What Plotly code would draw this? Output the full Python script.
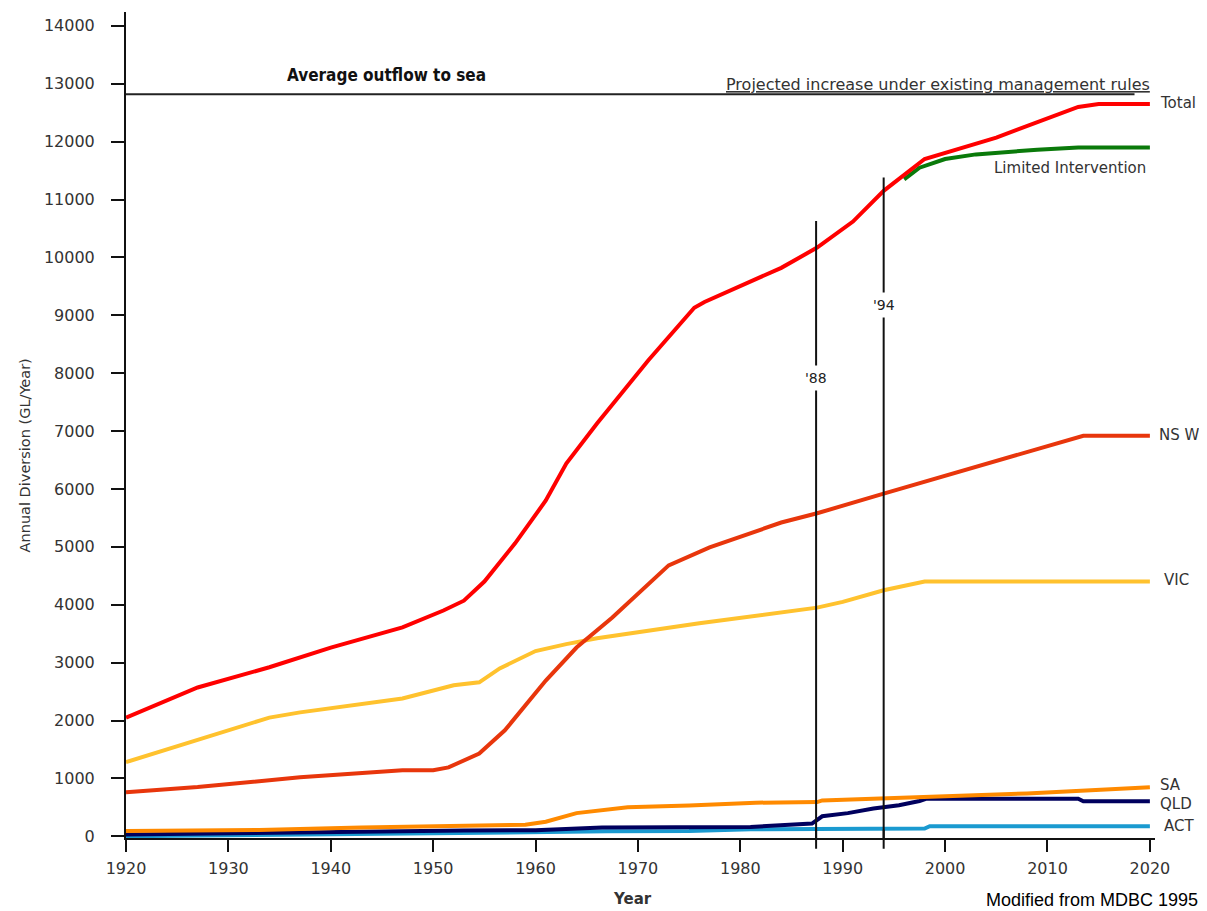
import plotly.graph_objects as go

# ---------------- data ----------------
total_years = [1920, 1927, 1934, 1940, 1947, 1951, 1953, 1955, 1958, 1961, 1963, 1966, 1971, 1975.5, 1976.5, 1980.5, 1984, 1987.5, 1991, 1994, 1998, 2005, 2013, 2015, 2020]
total_vals = [2050, 2570, 2920, 3260, 3610, 3900, 4070, 4400, 5060, 5800, 6440, 7130, 8220, 9130, 9230, 9550, 9820, 10170, 10620, 11150, 11700, 12070, 12600, 12650, 12650]

limited_years = [1996, 1997.5, 2000, 2003, 2009, 2013, 2020]
limited_vals = [11350, 11550, 11700, 11780, 11860, 11900, 11900]

nsw_years = [1920, 1927, 1937, 1947, 1950, 1951.5, 1954.5, 1957, 1961, 1964, 1967.5, 1971.5, 1973, 1977, 1984, 1987.5, 1994, 2013.5, 2020]
nsw_vals = [760, 850, 1020, 1140, 1140, 1190, 1430, 1830, 2690, 3260, 3780, 4420, 4680, 4990, 5420, 5580, 5920, 6920, 6920]

vic_years = [1920, 1927, 1934, 1937, 1947, 1952, 1954.5, 1956.5, 1960, 1963, 1966, 1976, 1984, 1987.5, 1990, 1994, 1998, 2020]
vic_vals = [1280, 1660, 2050, 2140, 2380, 2610, 2660, 2900, 3200, 3320, 3420, 3680, 3870, 3950, 4050, 4250, 4400, 4400]

sa_years = [1920, 1933, 1943, 1954, 1959, 1961, 1964, 1969, 1975, 1981.5, 1987.5, 1988, 1997.5, 2008, 2020]
sa_vals = [90, 110, 150, 180, 200, 250, 400, 500, 530, 580, 590, 620, 670, 740, 845]

qld_years = [1920, 1932, 1939, 1953, 1960, 1966.5, 1981, 1987, 1988, 1990.5, 1993, 1995.5, 1997.5, 1998.2, 2013, 2013.5, 2020]
qld_vals = [30, 60, 80, 100, 105, 150, 160, 220, 345, 400, 480, 535, 610, 650, 650, 606, 606]

act_years = [1920, 1939, 1943, 1955, 1967, 1975, 1981, 1998, 1998.5, 2020]
act_vals = [0, 25, 30, 60, 86, 90, 120, 135, 175, 175]

series_names = ["Limited Intervention", "Total", "NSW", "VIC", "SA", "QLD", "ACT"]
series_colors = ["#0a7a0a", "#ff0000", "#e8360c", "#ffc22e", "#ff8a00", "#00005e", "#1a9ad0"]

outflow_value = 12820
outflow_end_year = 2018.5
event_years = [1987.4, 1994.0]
event_tops = [10630, 11380]
event_labels = ["'88", "'94"]
event_label_vals = [7920, 9180]

x_tick_vals = [1920, 1930, 1940, 1950, 1960, 1970, 1980, 1990, 2000, 2010, 2020]
x_tick_text = [str(v) for v in x_tick_vals]
y_tick_vals = list(range(0, 14001, 1000))

# ---------------- figure ----------------
FONT = "DejaVu Sans, Liberation Sans, Arial"
fig = go.Figure()
all_x = [limited_years, total_years, nsw_years, vic_years, sa_years, qld_years, act_years]
all_y = [limited_vals, total_vals, nsw_vals, vic_vals, sa_vals, qld_vals, act_vals]
order = [6, 5, 4, 3, 2, 0, 1]
for i in order:
    fig.add_trace(go.Scatter(x=all_x[i], y=all_y[i], mode="lines", name=series_names[i],
                             line=dict(color=series_colors[i], width=4), showlegend=False,
                             cliponaxis=False))

# average outflow line
fig.add_shape(type="line", xref="x", yref="y", x0=1920, x1=outflow_end_year,
              y0=outflow_value, y1=outflow_value, line=dict(color="#222", width=2))

# event vertical lines
for yr, top, lab, lv in zip(event_years, event_tops, event_labels, event_label_vals):
    fig.add_shape(type="line", xref="x", yref="y", x0=yr, x1=yr, y0=-180, y1=top,
                  line=dict(color="#111", width=2))
    fig.add_shape(type="line", xref="x", yref="paper", x0=yr, x1=yr, y0=-0.013, y1=0.01,
                  line=dict(color="#111", width=2))
    fig.add_annotation(x=yr, y=lv, xref="x", yref="y", text=lab, showarrow=False,
                       bgcolor="white", font=dict(family=FONT, size=14, color="#222"),
                       borderpad=4)

font_lab = dict(family=FONT, size=15, color="#333")
right_labels = [("Total", 12660, 8, "left"), ("NS W", 6930, 7, "left"), ("VIC", 4420, 12, "left"),
                ("SA", 880, 8, "left"), ("QLD", 560, 8, "left"), ("ACT", 180, 12, "left")]
for txt, yv, xs, anc in right_labels:
    fig.add_annotation(x=2020, y=yv, xref="x", yref="y", text=txt, showarrow=False,
                       xanchor=anc, xshift=xs, font=font_lab)

fig.add_annotation(x=2019.8, y=11540, xref="x", yref="y", text="Limited Intervention",
                   showarrow=False, xanchor="right", font=font_lab)

fig.add_annotation(x=1999.3, y=12990, xref="x", yref="y",
                   text="<u>Projected increase under existing management rules</u>",
                   showarrow=False, font=dict(family=FONT, size=16, color="#333"))

fig.add_annotation(x=1945.4, y=13150, xref="x", yref="y", text="<b>Average outflow to sea</b>",
                   showarrow=False, font=dict(family="DejaVu Sans Condensed, DejaVu Sans", size=17, color="#111"))

# axis titles as annotations
fig.add_annotation(x=0, y=6580, xref="paper", yref="y", xshift=-101, xanchor="center", yanchor="middle",
                   text="Annual Diversion (GL/Year)",
                   textangle=-90, showarrow=False, font=dict(family=FONT, size=14.5, color="#333"))
fig.add_annotation(x=1969.5, y=0, xref="x", yref="paper", yshift=-61, yanchor="middle", text="<b>Year</b>",
                   showarrow=False, font=dict(family=FONT, size=15, color="#333"))

fig.add_annotation(x=1, y=0, xref="paper", yref="paper", yshift=-62, xshift=45,
                   text="Modified from MDBC 1995", showarrow=False, xanchor="right", yanchor="middle",
                   font=dict(family="Liberation Sans, Arial", size=18, color="#000"))

# page body has an 8px margin at top/left: figure is shrunk by 8px and left/top margins shifted
fig.update_layout(
    width=1199, height=903,
    margin=dict(l=118, r=52, t=4, b=73),
    plot_bgcolor="white", paper_bgcolor="white",
    font=dict(family=FONT, size=14, color="#333"),
)
fig.update_xaxes(range=[1920, 2020.5], tickvals=x_tick_vals, ticktext=x_tick_text,
                 showgrid=False, zeroline=False, showline=True, linecolor="#111", linewidth=2,
                 ticks="outside", ticklen=12, tickwidth=2, tickcolor="#111", automargin=False,
                 tickfont=dict(family=FONT, size=16, color="#333"), ticklabelstandoff=3)
fig.update_yaxes(range=[-30, 14240], tickvals=y_tick_vals, tickformat="d",
                 showgrid=False, zeroline=False, showline=True, linecolor="#111", linewidth=2,
                 ticks="outside", ticklen=13, tickwidth=2, tickcolor="#111", automargin=False,
                 tickfont=dict(family=FONT, size=16, color="#333"), ticklabelstandoff=13)

fig.write_html("out.html")
